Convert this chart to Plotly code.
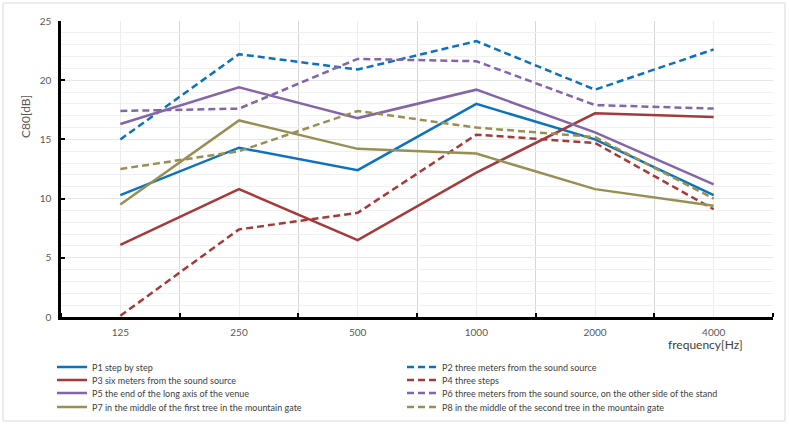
import plotly.graph_objects as go

freqs = ["125", "250", "500", "1000", "2000", "4000"]

names = [
    "P1 step by step",
    "P2 three meters from the sound source",
    "P3 six meters from the sound source",
    "P4 three steps",
    "P5 the end of the long axis of the venue",
    "P6 three meters from the sound source, on the other side of the stand",
    "P7 in the middle of the first tree in the mountain gate",
    "P8 in the middle of the second tree in the mountain gate",
]

p1 = [10.3, 14.3, 12.4, 18.0, 15.0, 10.3]
p2 = [15.0, 22.2, 20.9, 23.3, 19.2, 22.6]
p3 = [6.1, 10.8, 6.5, 12.2, 17.2, 16.9]
p4 = [0.1, 7.4, 8.8, 15.4, 14.7, 9.1]
p5 = [16.3, 19.4, 16.8, 19.2, 15.6, 11.2]
p6 = [17.4, 17.6, 21.8, 21.6, 17.9, 17.6]
p7 = [9.5, 16.6, 14.2, 13.8, 10.8, 9.4]
p8 = [12.5, 14.0, 17.4, 16.0, 15.2, 10.0]

series = [p1, p2, p3, p4, p5, p6, p7, p8]
colors = ["#0C72C0", "#0C72C0", "#A53A3B", "#A53A3B",
          "#8466A8", "#8466A8", "#979052", "#979052"]
dashes = ["solid", "7px,4px"] * 4

FONT = "Lato, sans-serif"

xpos = list(range(len(freqs)))

fig = go.Figure()
legend_ids = ["legend", "legend2", "legend3", "legend4"]
for i, (nm, vals) in enumerate(zip(names, series)):
    fig.add_trace(go.Scatter(
        x=xpos, y=vals, name=nm, mode="lines",
        line=dict(color=colors[i], width=2.5, dash=dashes[i]),
        legend=legend_ids[i // 2],
    ))

W, H = 789, 425
L, R, T, B = 61, 16, 21, 108
pw = W - L - R
ph = H - T - B

def px(x):
    return (x - L) / pw

def py(y):
    return (H - B - y) / ph

legend_rows_y = [367, 380, 393, 407]
legend_common = dict(
    orientation="h", x=px(52), xanchor="left", yanchor="middle",
    bgcolor="rgba(0,0,0,0)", borderwidth=0,
    font=dict(family=FONT, size=9, color="#404040"),
    entrywidth=305, entrywidthmode="pixels",
    itemclick=False, itemdoubleclick=False,
)

layout_legends = {}
for lid, yy in zip(legend_ids, legend_rows_y):
    d = dict(legend_common)
    d["y"] = py(yy)
    layout_legends[lid] = d

fig.update_layout(
    width=W, height=H,
    margin=dict(l=L, r=R, t=T, b=B, autoexpand=False),
    paper_bgcolor="white", plot_bgcolor="white",
    font=dict(family=FONT, size=10, color="#595959"),
    showlegend=True,
    **layout_legends,
)

fig.update_xaxes(
    range=[-0.5, len(freqs) - 0.5],
    tickmode="array", tickvals=xpos, ticktext=freqs,
    ticks="", showgrid=True, gridcolor="#EDEDED", gridwidth=1,
    showline=True, linecolor="black", linewidth=2.5,
    zeroline=False, ticklabelstandoff=4,
    tickfont=dict(family=FONT, size=10, color="#595959"),
    minor=dict(tick0=0.5, dtick=1, ticks="inside", ticklen=4,
               tickwidth=2, tickcolor="black", showgrid=True,
               gridcolor="#D6D6D6", gridwidth=1),
)

fig.update_yaxes(
    range=[0, 25], dtick=5, tick0=0,
    ticks="inside", ticklen=4, tickwidth=2, tickcolor="black",
    showgrid=True, gridcolor="#E6E6E6", gridwidth=1,
    showline=True, linecolor="black", linewidth=2.5,
    zeroline=False, ticklabelstandoff=5,
    tickfont=dict(family=FONT, size=10, color="#595959"),
    minor=dict(dtick=1, showgrid=True, gridcolor="#F0F0F0", gridwidth=1),
)

fig.add_annotation(
    text="C80[dB]", xref="paper", yref="paper",
    x=px(25), y=py(117), xanchor="center", yanchor="middle",
    textangle=-90, showarrow=False,
    font=dict(family=FONT, size=12, color="#595959"),
)
fig.add_annotation(
    text="frequency[Hz]", xref="paper", yref="paper",
    x=px(745), y=py(344), xanchor="right", yanchor="middle",
    showarrow=False,
    font=dict(family=FONT, size=12, color="#404040"),
)

fig.add_shape(
    type="rect", xref="paper", yref="paper",
    x0=px(3), x1=px(785), y0=py(421), y1=py(3),
    line=dict(color="#D9D9D9", width=1), fillcolor="rgba(0,0,0,0)",
    layer="below",
)

fig.write_html(
    "out.html",
    config={"displayModeBar": False},
    post_script="document.body.style.margin='0';",
)
